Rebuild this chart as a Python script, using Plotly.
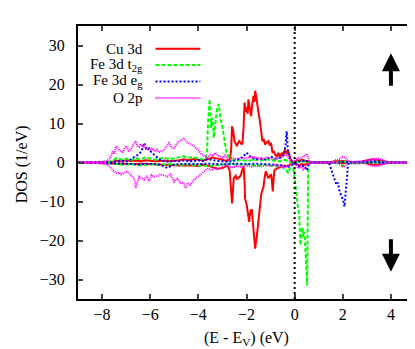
import plotly.graph_objects as go

# Energies (eV) and DOS (1/eV), spin up (>0) and spin down (<0)
cu_up_e = [-9.0, -7.6, -7.4, -7.2, -7.0, -6.8, -6.6, -6.4, -6.2, -6.0,
           -5.8, -5.6, -5.4, -5.2, -5.0, -4.8, -4.6, -4.4, -4.2, -4.0,
           -3.8, -3.6, -3.4, -3.2, -3.0, -2.8, -2.7, -2.64, -2.6, -2.55,
           -2.5, -2.45, -2.4, -2.35, -2.3, -2.26, -2.2, -2.17, -2.12, -2.08,
           -2.03, -1.99, -1.95, -1.92, -1.87, -1.81, -1.76, -1.71, -1.67, -1.64,
           -1.6, -1.57, -1.53, -1.5, -1.44, -1.39, -1.34, -1.28, -1.23, -1.16,
           -1.09, -1.03, -0.98, -0.92, -0.86, -0.81, -0.74, -0.67, -0.6, -0.54,
           -0.47, -0.4, -0.33, -0.27, -0.2, -0.14, -0.08, 0.0, 0.1, 0.2,
           0.3, 0.4, 0.5, 0.6, 0.7, 1.4, 1.7, 2.0, 2.3, 2.7,
           2.9, 3.1, 3.3, 3.5, 3.7, 3.9, 5.0]
cu_up = [0, 0.1, 0.5, 0.3, 0.6, 0.4, 0.5, 0.3, 0.6, 0.4,
         0.3, 0.4, 0.5, 0.3, 0.4, 0.6, 0.8, 0.6, 0.9, 0.7,
         0.5, 0.9, 1.3, 1.0, 0.6, 0.4, 0.8, 3.0, 9.3, 8.0,
         5.5, 4.6, 4.2, 5.0, 5.5, 5.2, 4.6, 5.0, 9.0, 15.4,
         13.0, 14.1, 12.5, 16.2, 14.5, 11.9, 15.0, 17.1, 15.5, 18.4,
         17.0, 16.0, 14.5, 12.8, 10.5, 8.5, 5.5, 6.0, 4.6, 5.2,
         5.5, 4.4, 5.0, 2.5, 2.8, 2.0, 1.6, 2.5, 1.2, 2.5,
         1.8, 3.3, 2.2, 3.0, 1.5, 0.3, 0, 0, 0.6, 0.4,
         0.7, 0.5, 0.3, 0.1, 0, 0, 0.3, 0.4, 0.1, 0.1,
         0.4, 0.7, 0.8, 0.6, 0.3, 0, 0]

cu_dn_e = [-9.0, -7.6, -7.2, -6.8, -6.4, -6.0, -5.6, -5.2, -4.8, -4.4,
           -4.0, -3.8, -3.6, -3.4, -3.2, -3.0, -2.8, -2.7, -2.64, -2.6,
           -2.56, -2.53, -2.45, -2.4, -2.35, -2.3, -2.24, -2.18, -2.12, -2.08,
           -2.06, -1.99, -1.94, -1.89, -1.84, -1.78, -1.74, -1.71, -1.67, -1.64,
           -1.6, -1.57, -1.53, -1.5, -1.44, -1.39, -1.34, -1.3, -1.25, -1.2,
           -1.14, -1.09, -1.03, -0.98, -0.94, -0.91, -0.87, -0.84, -0.74, -0.6,
           -0.5, -0.4, -0.3, -0.2, -0.1, 0.0, 0.1, 0.2, 0.3, 0.4,
           0.5, 0.6, 0.7, 1.7, 2.0, 2.3, 2.9, 3.1, 3.3, 3.5,
           3.7, 3.9, 5.0]
cu_dn = [0, -0.1, -0.3, -0.4, -0.3, -0.4, -0.5, -0.7, -0.8, -0.7,
         -0.9, -0.6, -0.8, -1.2, -1.6, -1.4, -0.8, -2.0, -6.0, -10.5,
         -7.0, -4.0, -3.4, -4.2, -4.0, -3.6, -3.4, -2.0, -1.0, -5.0,
         -9.2, -10.9, -13.0, -15.2, -12.5, -12.0, -15.0, -16.9, -19.5, -22.1,
         -20.0, -19.0, -16.5, -14.3, -11.0, -8.3, -7.0, -6.5, -4.0, -2.3,
         -3.2, -4.0, -3.5, -3.0, -5.0, -7.4, -4.0, -2.0, -1.5, -1.2,
         -1.0, -0.8, -1.0, -0.6, -0.2, -0.3, -0.5, -0.7, -0.4, -0.6,
         -0.3, -0.1, 0, 0, -0.2, 0, 0, -0.4, -0.6, -0.5,
         -0.3, 0, 0]

t2g_up_e = [-9.0, -7.6, -7.4, -7.2, -7.0, -6.8, -6.6, -6.4, -6.2, -6.0,
            -5.8, -5.6, -5.4, -5.2, -5.0, -4.8, -4.6, -4.4, -4.2, -4.0,
            -3.8, -3.7, -3.64, -3.6, -3.53, -3.5, -3.47, -3.43, -3.39, -3.36,
            -3.32, -3.29, -3.25, -3.22, -3.15, -3.08, -3.02, -2.94, -2.84, -2.74,
            -2.6, -2.4, -2.2, -2.0, -1.8, -1.6, -1.4, -1.2, -1.0, -0.8,
            -0.6, -0.4, -0.2, 0.0, 0.2, 0.4, 0.6, 0.8, 1.8, 2.0,
            2.2, 3.0, 3.3, 3.6, 3.9, 5.0]
t2g_up = [0, 0.3, 1.2, 0.8, 1.0, 0.6, 1.1, 0.8, 1.3, 0.9,
          0.7, 1.0, 1.2, 0.8, 1.1, 1.3, 1.6, 1.2, 1.4, 1.0,
          0.8, 1.2, 2.5, 10.0, 16.2, 12.0, 8.9, 11.5, 10.0, 6.3,
          9.0, 10.0, 12.5, 14.0, 15.0, 11.0, 9.8, 6.3, 2.9, 1.5,
          0.6, 0.5, 0.7, 0.4, 0.6, 0.8, 0.5, 0.9, 0.6, 0.4,
          0.3, 0.7, 0.2, 0, 0.3, 0.2, 0, 0, 0, 0.3,
          0, 0.1, 0.2, 0.1, 0, 0]

t2g_dn_e = [-9.0, -7.6, -7.2, -6.8, -6.4, -6.0, -5.6, -5.2, -4.8, -4.4,
            -4.0, -3.6, -3.3, -3.0, -2.7, -2.4, -2.0, -1.6, -1.2, -0.8,
            -0.5, -0.35, -0.26, -0.18, -0.1, -0.03, 0.03, 0.08, 0.13, 0.19,
            0.24, 0.28, 0.32, 0.35, 0.38, 0.42, 0.46, 0.49, 0.52, 0.56,
            0.6, 0.7, 1.8, 2.0, 2.2, 5.0]
t2g_dn = [0, -0.2, -0.6, -0.4, -0.7, -0.5, -0.6, -0.4, -0.7, -0.5,
          -0.8, -0.9, -0.7, -0.5, -0.3, -0.6, -0.5, -0.8, -0.6, -0.9,
          -1.2, -2.0, -2.7, -1.0, -0.4, -2.3, -5.0, -8.3, -11.0, -13.5,
          -21.2, -17.5, -16.6, -19.0, -17.8, -19.0, -24.7, -27.0, -31.5, -2.3,
          -0.5, 0, 0, -1.0, 0, 0]

eg_up_e = [-9.0, -7.6, -7.3, -7.0, -6.8, -6.6, -6.46, -6.35, -6.25, -6.15,
           -6.05, -5.95, -5.84, -5.7, -5.56, -5.4, -5.2, -5.0, -4.8, -4.6,
           -4.4, -4.2, -4.0, -3.8, -3.6, -3.4, -3.2, -3.0, -2.8, -2.6,
           -2.4, -2.2, -2.1, -2.0, -1.9, -1.8, -1.6, -1.4, -1.2, -1.0,
           -0.8, -0.6, -0.45, -0.38, -0.33, -0.28, -0.2, -0.1, 0.0, 0.2,
           0.4, 0.6, 0.8, 1.8, 2.0, 2.2, 3.0, 3.3, 3.6, 3.9,
           5.0]
eg_up = [0, 0.1, 0.4, 0.3, 0.8, 1.5, 2.2, 3.0, 5.0, 3.2,
         3.5, 2.6, 2.0, 1.2, 0.5, 0.3, 0.2, 0.4, 0.3, 0.5,
         0.4, 0.3, 0.6, 0.4, 0.9, 0.6, 0.4, 0.3, 0.2, 0.3,
         0.8, 1.2, 1.8, 2.5, 2.0, 1.2, 0.8, 1.0, 0.7, 1.5,
         1.0, 1.2, 2.0, 4.5, 8.0, 3.0, 1.0, 0.2, 0, 0.3,
         0.5, 0.2, 0, 0, 0.2, 0, 0.1, 0.3, 0.1, 0,
         0]

eg_dn_e = [-9.0, -7.6, -7.0, -6.5, -6.0, -5.6, -5.29, -5.0, -4.5, -4.0,
           -3.5, -3.0, -2.5, -2.0, -1.5, -1.0, -0.5, -0.3, -0.1, 0.0,
           0.2, 0.4, 0.5, 0.6, 1.4, 1.45, 1.52, 1.59, 1.66, 1.73,
           1.8, 1.87, 1.94, 2.01, 2.07, 2.11, 2.14, 2.18, 2.21, 2.25,
           5.0]
eg_dn = [0, -0.1, -0.3, -0.5, -0.3, -0.6, -1.4, -0.5, -0.3, -0.4,
         -0.3, -0.5, -0.3, -0.4, -0.3, -0.5, -0.7, -1.2, -0.5, -0.2,
         -1.0, -0.8, -2.0, 0, 0, -0.5, -1.8, -3.1, -4.5, -5.7,
         -5.2, -7.5, -8.5, -9.6, -11.3, -9.0, -6.5, -3.5, -1.0, 0,
         0]

o2p_up_e = [-9.0, -8.0, -7.8, -7.65, -7.56, -7.49, -7.42, -7.35, -7.28, -7.21,
            -7.14, -7.07, -7.0, -6.9, -6.8, -6.7, -6.6, -6.53, -6.46, -6.39,
            -6.32, -6.25, -6.15, -6.05, -5.98, -5.91, -5.8, -5.72, -5.64, -5.54,
            -5.44, -5.33, -5.22, -5.12, -5.01, -4.91, -4.81, -4.7, -4.6, -4.5,
            -4.4, -4.3, -4.19, -4.08, -3.98, -3.88, -3.77, -3.65, -3.5, -3.4,
            -3.3, -3.2, -3.1, -3.0, -2.9, -2.8, -2.6, -2.4, -2.2, -2.0,
            -1.8, -1.6, -1.4, -1.2, -1.0, -0.8, -0.6, -0.45, -0.35, -0.25,
            -0.15, -0.05, 0.05, 0.15, 0.25, 0.35, 0.45, 0.52, 0.6, 0.7,
            1.5, 1.7, 1.9, 2.0, 2.1, 2.2, 2.4, 2.9, 3.1, 3.3,
            3.5, 3.7, 3.9, 5.0]
o2p_up = [0, 0.1, 0.4, 1.2, 2.9, 2.2, 4.2, 3.5, 3.0, 3.0,
          2.5, 3.6, 4.2, 3.0, 3.4, 4.6, 5.5, 4.2, 4.0, 4.8,
          3.9, 4.4, 3.2, 4.0, 3.3, 3.7, 2.8, 3.3, 2.5, 2.9,
          3.0, 4.1, 5.0, 3.8, 3.7, 4.6, 5.5, 5.8, 6.3, 5.3,
          5.0, 4.6, 4.2, 3.5, 3.0, 2.2, 1.7, 1.2, 2.0, 1.6,
          2.5, 1.8, 1.5, 1.2, 1.8, 1.0, 1.2, 0.8, 1.3, 1.0,
          1.5, 1.1, 0.9, 1.3, 1.0, 0.8, 1.2, 1.6, 2.0, 1.2,
          0.5, 0.1, 0.8, 1.2, 0.9, 1.5, 1.8, 2.2, 0.5, 0,
          0, 0.6, 0.9, 1.5, 1.2, 0.5, 0.2, 0.3, 0.6, 0.9,
          1.0, 0.5, 0, 0]

o2p_dn_e = [-9.0, -8.0, -7.8, -7.65, -7.56, -7.49, -7.4, -7.3, -7.21, -7.1,
            -7.0, -6.94, -6.85, -6.75, -6.66, -6.6, -6.53, -6.46, -6.35, -6.25,
            -6.15, -6.05, -5.95, -5.84, -5.7, -5.56, -5.42, -5.29, -5.15, -5.01,
            -4.88, -4.74, -4.63, -4.53, -4.43, -4.33, -4.19, -4.05, -3.91, -3.77,
            -3.6, -3.45, -3.3, -3.15, -3.0, -2.8, -2.6, -2.4, -2.2, -2.0,
            -1.8, -1.6, -1.4, -1.2, -1.0, -0.8, -0.6, -0.45, -0.3, -0.15,
            -0.05, 0.05, 0.15, 0.25, 0.35, 0.45, 0.55, 0.7, 1.7, 1.9,
            2.05, 2.2, 2.9, 3.1, 3.3, 3.5, 3.7, 3.9, 5.0]
o2p_dn = [0, -0.1, -0.5, -1.2, -2.0, -2.3, -2.8, -2.5, -3.1, -2.7,
          -2.5, -2.3, -2.9, -3.5, -4.2, -6.5, -5.3, -3.6, -4.0, -4.4,
          -3.5, -4.8, -3.2, -3.7, -3.4, -3.0, -3.3, -3.6, -3.0, -4.9,
          -4.2, -5.3, -5.0, -6.6, -5.2, -5.7, -4.5, -3.8, -3.0, -2.5,
          -1.5, -2.0, -1.4, -1.8, -1.2, -0.8, -1.3, -0.9, -1.2, -0.7,
          -1.1, -0.8, -1.0, -0.7, -0.9, -0.6, -1.0, -1.3, -0.8, -0.5,
          -0.1, -0.6, -1.5, -1.0, -1.8, -1.2, -0.5, 0, 0, -0.5,
          -1.2, -0.3, -0.2, -0.7, -1.0, -0.8, -0.4, 0, 0]

labels = ["Cu 3d", "Fe 3d t<sub>2g</sub>", "Fe 3d e<sub>g</sub>", "O 2p"]
colors = ["#ff0000", "#00ff00", "#0000ff", "#ff00ff"]
dashes = ["solid", "4px,2px", "2px,2px", "1px,1px"]
widths = [2, 2, 2, 2]

series = [(cu_up_e, cu_up, cu_dn_e, cu_dn),
          (t2g_up_e, t2g_up, t2g_dn_e, t2g_dn),
          (eg_up_e, eg_up, eg_dn_e, eg_dn),
          (o2p_up_e, o2p_up, o2p_dn_e, o2p_dn)]

fig = go.Figure()
for (ue, u, de, d), c, ds, w in zip(series, colors, dashes, widths):
  for xx, yy in ((ue, u), (de, d)):
    fig.add_trace(go.Scatter(x=xx, y=yy, mode="lines", showlegend=False,
                             line=dict(color=c, dash=ds, width=w)))

# Fermi level
fig.add_shape(type="line", xref="x", yref="paper", x0=0, x1=0, y0=0, y1=1,
              line=dict(color="black", width=2, dash="2px,3px"))

# gnuplot-style key: text on the left, line sample on the right
key_y = [0.917, 0.857, 0.797, 0.736]
for lab, c, ds, w, ky in zip(labels, colors, dashes, widths, key_y):
  fig.add_annotation(x=0.2, y=ky, xref="paper", yref="paper", text=lab,
                     showarrow=False, xanchor="right", yanchor="middle",
                     font=dict(size=15))
  fig.add_shape(type="line", xref="paper", yref="paper", x0=0.23, x1=0.363,
                y0=ky, y1=ky, line=dict(color=c, dash=ds, width=w))

# spin arrows
for tip, tail in ((28, 19.3), (-28, -19.3)):
  fig.add_annotation(x=4, y=tip, ax=4, ay=tail, xref="x", yref="y",
                     axref="x", ayref="y", text="", showarrow=True,
                     arrowhead=2, arrowsize=0.9, arrowwidth=4, arrowcolor="black")

# axis titles placed like gnuplot's
fig.add_annotation(x=0.5, y=-0.146, xref="paper", yref="paper",
                   text="(E - E<sub>V</sub>) (eV)", showarrow=False,
                   xanchor="center", yanchor="middle")
fig.add_annotation(x=-0.168, y=0.495, xref="paper", yref="paper",
                   text="DOS (1/eV)", showarrow=False, textangle=-90,
                   xanchor="center", yanchor="middle")

fig.update_xaxes(range=[-9, 5], tickvals=[-8, -6, -4, -2, 0, 2, 4],
                 ticks="inside", ticklen=5, tickwidth=1.5, mirror="allticks",
                 showline=True, linewidth=2, linecolor="black",
                 showgrid=False, zeroline=False)
fig.update_yaxes(range=[-35, 35], tickvals=[-30, -20, -10, 0, 10, 20, 30],
                 ticks="inside", ticklen=5, tickwidth=1.5, mirror="allticks",
                 showline=True, linewidth=2, linecolor="black",
                 showgrid=False, zeroline=False, ticklabelstandoff=8)

fig.update_layout(width=415,
                  height=349,
                  margin=dict(l=70, r=6, t=18, b=58),
                  paper_bgcolor="white",
                  plot_bgcolor="white",
                  font=dict(family="Times New Roman, Liberation Serif, serif",
                            size=16, color="black"))

fig.write_html("out.html")
